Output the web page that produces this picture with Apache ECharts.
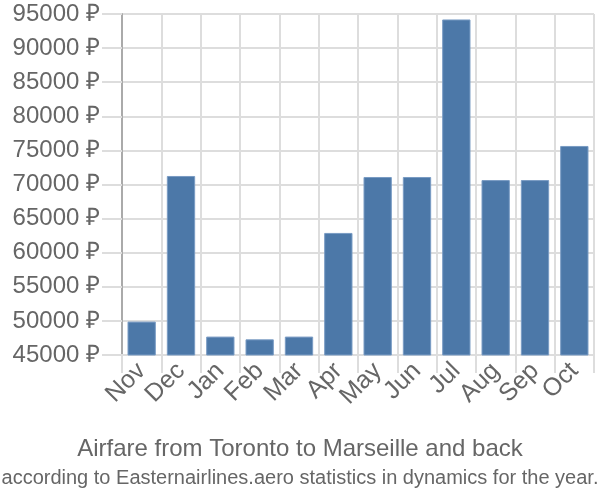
<!DOCTYPE html>
<html><head><meta charset="utf-8">
<script src="https://cdn.jsdelivr.net/npm/echarts@6/dist/echarts.min.js"></script>
<style>html,body{margin:0;padding:0;background:#fff}#c{width:600px;height:500px}</style>
</head><body><div id="c"></div>
<script>
var categories = ['Nov','Dec','Jan','Feb','Mar','Apr','May','Jun','Jul','Aug','Sep','Oct'];
var prices = [49900, 71250, 47700, 47300, 47700, 62900, 71100, 71100, 94200, 70650, 70650, 75650];
var titleText = 'Airfare from Toronto to Marseille and back';
var subtitleText = 'according to Easternairlines.aero statistics in dynamics for the year.';
var yMin = 45000, yMax = 95000, yStep = 5000;
var currency = ' ₽';

var chart = echarts.init(document.getElementById('c'));
chart.setOption({
  animation: false,
  title: [
    {text: titleText, left: 'center', top: 432, textStyle: {fontFamily: 'Liberation Sans', fontSize: 24, fontWeight: 'normal', color: '#666'}},
    {text: subtitleText, left: 'center', top: 463, textStyle: {fontFamily: 'Liberation Sans', fontSize: 20, fontWeight: 'normal', color: '#666'}}
  ],
  grid: {left: 122, right: 6, top: 14, bottom: 145},
  xAxis: {
    type: 'category', data: categories, boundaryGap: true,
    axisLine: {show: true, lineStyle: {color: '#ddd', width: 2}},
    axisTick: {show: true, length: 18, lineStyle: {color: '#ddd', width: 2}},
    splitLine: {show: true, lineStyle: {color: '#ddd', width: 2}},
    axisLabel: {rotate: 45, margin: 12, fontFamily: 'Liberation Sans', fontSize: 25, color: '#666', interval: 0}
  },
  yAxis: {
    type: 'value', min: yMin, max: yMax, interval: yStep,
    axisLine: {show: true, lineStyle: {color: '#aaa', width: 2}},
    axisTick: {show: true, length: 20, lineStyle: {color: '#ddd', width: 2}},
    splitLine: {show: true, lineStyle: {color: '#ddd', width: 2}},
    axisLabel: {formatter: function (v) { return v + currency; }, margin: 22, fontFamily: 'Liberation Sans', fontSize: 24, color: '#666'}
  },
  series: [{
    type: 'bar', data: prices, barCategoryGap: '28%',
    itemStyle: {color: '#4c78a8', borderColor: '#7a9cc4', borderWidth: 1}
  }]
});
</script></body></html>
